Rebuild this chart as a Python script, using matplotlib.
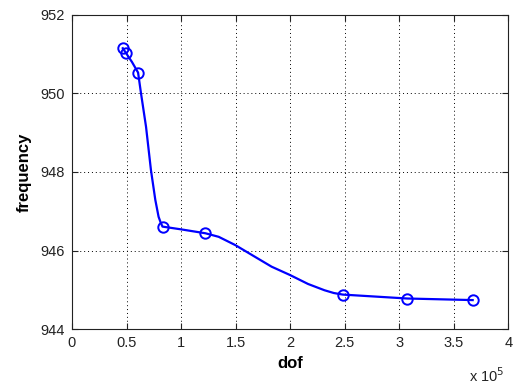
import matplotlib
matplotlib.use("Agg")
import matplotlib.pyplot as plt
from matplotlib.ticker import FuncFormatter, MultipleLocator

plt.rcParams["font.family"] = ["Liberation Sans", "DejaVu Sans"]

# measured points (markers)
dof = [46600, 49700, 60600, 83000, 122400, 248200, 307300, 367300]
frequency = [951.15, 951.02, 950.53, 946.61, 946.44, 944.88, 944.78, 944.74]

# smooth connecting curve
curve_dof = [46600, 49700, 55000, 60600, 63300, 67900, 72400, 76400, 79400, 81500, 83000,
             100000, 122400, 134500, 149700, 164800, 183000, 199700, 216400, 231500, 240000, 248200,
             307300, 367300]
curve_freq = [951.15, 951.02, 950.80, 950.53, 950.00, 949.15, 948.05, 947.29, 946.86, 946.70, 946.61,
              946.54, 946.44, 946.35, 946.14, 945.89, 945.59, 945.38, 945.15, 944.99, 944.92, 944.88,
              944.78, 944.74]

fig = plt.figure(figsize=(5.14, 3.9), dpi=100)
ax = fig.add_axes([0.14, 0.156, 0.849, 0.806])

ax.plot(curve_dof, curve_freq, color="#0000ff", linewidth=1.6)
ax.plot(dof, frequency, linestyle="none", marker="o", markersize=7.5,
        markerfacecolor="none", markeredgecolor="#0000ff", markeredgewidth=1.4)

ax.set_xlim(0, 400000)
ax.set_ylim(944, 952)
ax.xaxis.set_major_locator(MultipleLocator(50000))
ax.yaxis.set_major_locator(MultipleLocator(2))
ax.xaxis.set_major_formatter(FuncFormatter(lambda v, p: f"{v / 1e5:g}"))
ax.yaxis.set_major_formatter(FuncFormatter(lambda v, p: f"{v:g}"))

ax.grid(True, linestyle=(0, (1, 3)), color="black", linewidth=0.7)
ax.tick_params(direction="in", top=True, right=True, length=4, labelsize=10.5,
               colors="#222222", pad=5)
for s in ax.spines.values():
    s.set_linewidth(0.8)
    s.set_color("#222222")

ax.set_xlabel("dof", fontweight="bold", fontsize=12, labelpad=4)
ax.set_ylabel("frequency", fontweight="bold", fontsize=12, labelpad=6)
fig.text(0.912, 0.02, r"x 10$^{5}$", fontsize=10.5, color="#222222")

fig.savefig("out.png", dpi=100)
